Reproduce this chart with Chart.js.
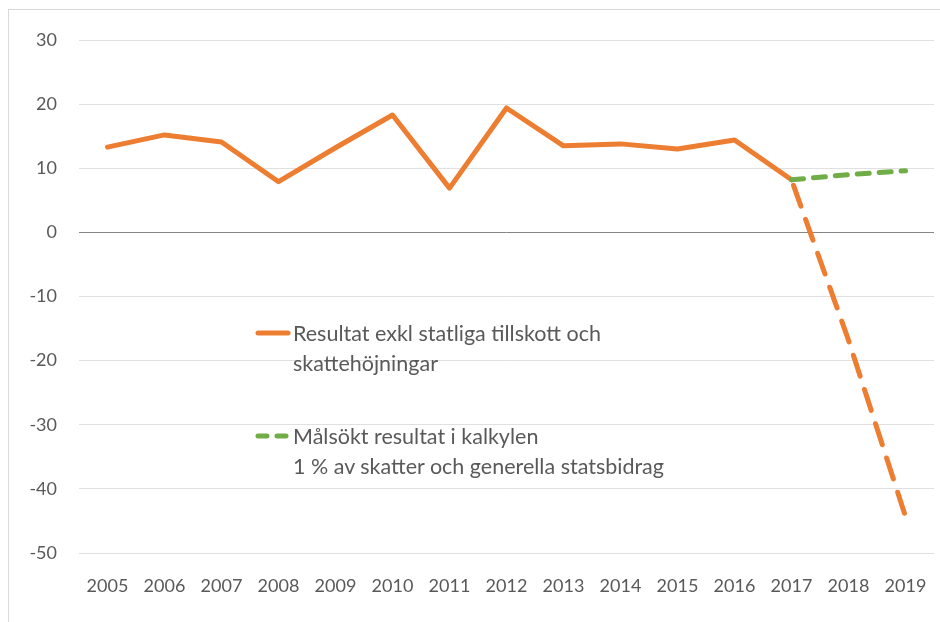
<!DOCTYPE html>
<html>
<head>
<meta charset="utf-8">
<script src="https://cdn.jsdelivr.net/npm/chart.js@4/dist/chart.umd.min.js"></script>
<style>
  html, body { margin: 0; padding: 0; background: #fff; overflow: hidden; }
  #wrap { position: relative; width: 940px; height: 622px; }
  #frame { position: absolute; left: 8px; top: 9px; width: 1000px; height: 1000px; border: 1px solid #d9d9d9; }
  #legend { position: absolute; left: 255px; top: 318px; font-family: Lato, sans-serif; font-size: 21.5px; color: #595959; }
  .item { position: relative; padding-left: 38px; line-height: 30px; }
  .item + .item { margin-top: 43px; }
  .swatch { position: absolute; left: 0; top: 12px; }
</style>
</head>
<body>
<div id="wrap">
  <div id="frame"></div>
  <canvas id="chart" width="940" height="622"></canvas>
  <div id="legend"></div>
</div>
<script>
const years = ['2005', '2006', '2007', '2008', '2009', '2010', '2011', '2012', '2013', '2014', '2015', '2016', '2017', '2018', '2019'];
const resultat = [13.3, 15.2, 14.1, 7.9, 13.2, 18.3, 6.9, 19.4, 13.5, 13.8, 13.0, 14.4, 8.2, null, null];
const prognos = [null, null, null, null, null, null, null, null, null, null, null, null, 8.2, -16.8, -44.3];
const malsokt = [null, null, null, null, null, null, null, null, null, null, null, null, 8.2, 9.0, 9.6];
const yTicks = [30, 20, 10, 0, -10, -20, -30, -40, -50];

const orange = '#ed7d31';
const green = '#70ad47';

function lineSet(label, data, color, dash, dashOffset) {
    return {
        label: label,
        data: data,
        borderColor: color,
        borderWidth: 5,
        borderDash: dash,
        borderDashOffset: dashOffset || 0,
        borderCapStyle: 'round',
        borderJoinStyle: 'round',
        pointRadius: 0,
        tension: 0,
        fill: false,
        spanGaps: false
    };
}

const ctx = document.getElementById('chart').getContext('2d');
new Chart(ctx, {
    type: 'line',
    data: {
        labels: years,
        datasets: [
            lineSet('Målsökt resultat i kalkylen', malsokt, green, [12, 10]),
            lineSet('Prognos', prognos, orange, [22, 14], 30),
            lineSet('Resultat exkl statliga tillskott och skattehöjningar', resultat, orange, [])
        ]
    },
    options: {
        responsive: false,
        animation: false,
        layout: { padding: { top: 40, right: 6, left: 0, bottom: 0 } },
        plugins: { legend: { display: false }, tooltip: { enabled: false } },
        scales: {
            x: {
                offset: true,
                grid: { display: false, drawTicks: false },
                border: { display: false },
                ticks: { color: '#595959', font: { family: 'Lato', size: 18 }, padding: 22, maxRotation: 0 },
                afterFit: function (scale) {
                    scale.height = 69;
                    // no extra side padding for the labels, the plot should span to the right edge
                    scale.paddingLeft = 0;
                    scale.paddingRight = 0;
                }
            },
            y: {
                min: -50,
                max: 30,
                afterBuildTicks: function (scale) { scale.ticks = yTicks.map(v => ({ value: v })); },
                grid: {
                    drawTicks: false,
                    color: c => c.tick && c.tick.value === 0 ? '#868686' : '#e0e0e0',
                    lineWidth: 1
                },
                border: { display: false },
                ticks: { color: '#595959', font: { family: 'Lato', size: 18 }, padding: 22 },
                afterFit: function (scale) { scale.width = 79; }
            }
        }
    }
});

// legend drawn as html inside the plot, like the original
const legendItems = [
    { text: 'Resultat exkl statliga tillskott och<br>skattehöjningar', color: orange, dash: false },
    { text: 'Målsökt resultat i kalkylen<br>1 % av skatter och generella statsbidrag', color: green, dash: true }
];
const legend = document.getElementById('legend');
legendItems.forEach(function (it) {
    const div = document.createElement('div');
    div.className = 'item';
    const dashAttr = it.dash ? ' stroke-dasharray="9 10"' : '';
    div.innerHTML = '<svg class="swatch" width="36" height="6"><line x1="3" y1="3" x2="33" y2="3" stroke="' + it.color +
        '" stroke-width="5" stroke-linecap="round"' + dashAttr + '/></svg>' + it.text;
    legend.appendChild(div);
});
</script>
</body>
</html>
